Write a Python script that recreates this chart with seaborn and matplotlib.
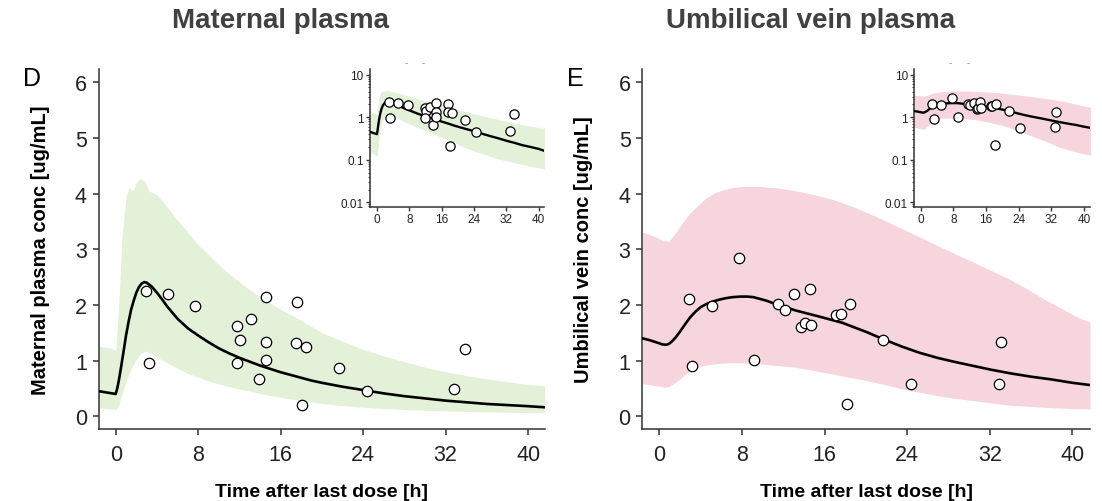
import matplotlib
matplotlib.use("Agg")
import matplotlib.pyplot as plt
import matplotlib.ticker as mticker
import numpy as np
import pandas as pd
import seaborn as sns

# ---------------- data ----------------
# Maternal plasma observations
mat_t = [2.95, 3.2, 5.1, 7.7, 11.8, 12.1, 11.75, 13.1, 13.9, 14.55, 14.6, 14.6,
         17.55, 17.5, 18.45, 18.1, 21.7, 24.4, 32.8, 33.9]
mat_c = [2.25, 0.95, 2.20, 1.98, 1.63, 1.37, 0.95, 1.74, 0.67, 2.15, 1.34, 1.01,
         2.05, 1.31, 1.24, 0.21, 0.86, 0.45, 0.48, 1.21]

# Maternal median prediction
mat_med_t = [-1.66, -1.0, 0.0, 0.15, 0.3, 0.5, 0.75, 1.0, 1.25, 1.5, 1.75, 2.0, 2.25, 2.5,
             2.75, 3.0, 3.5, 4.0, 4.5, 5, 6, 7, 8, 9, 10, 11, 12, 13, 14, 15, 16,
             17, 18, 19, 20, 22, 24, 26, 28, 30, 32, 34, 36, 38, 40, 41.6]
mat_med_c = [0.45, 0.43, 0.40, 0.50, 0.64, 0.86, 1.15, 1.45, 1.70, 1.92, 2.08, 2.22, 2.32,
             2.38, 2.41, 2.40, 2.33, 2.22, 2.10, 1.97, 1.75, 1.58, 1.45, 1.33, 1.22, 1.13,
             1.05, 0.98, 0.91, 0.85, 0.79, 0.74, 0.69, 0.64, 0.60, 0.53, 0.47, 0.41, 0.36,
             0.32, 0.28, 0.25, 0.22, 0.20, 0.18, 0.16]

# Maternal prediction interval
mat_pi_t = [-1.66, -1.0, -0.5, 0.0, 0.3, 0.6, 1.0, 1.3, 1.7, 2.0, 2.4, 2.8, 3.2, 4, 5, 6,
            7, 8, 9, 10, 11, 12, 13, 14, 15, 16, 17, 18, 20, 22, 24, 26, 28, 30, 32,
            34, 36, 38, 40, 41.6]
mat_pi_hi = [1.26, 1.24, 1.22, 1.18, 2.0, 3.2, 3.95, 4.1, 4.05, 4.2, 4.28, 4.22, 4.05,
             3.98, 3.76, 3.52, 3.30, 3.08, 2.90, 2.72, 2.56, 2.41, 2.27, 2.14, 2.03,
             1.92, 1.82, 1.72, 1.50, 1.35, 1.20, 1.08, 0.98, 0.88, 0.80, 0.73, 0.67,
             0.62, 0.57, 0.55]
mat_pi_lo = [0.15, 0.14, 0.13, 0.12, 0.20, 0.40, 0.62, 0.78, 0.92, 1.02, 1.12, 1.17, 1.15,
             1.06, 0.96, 0.86, 0.77, 0.70, 0.63, 0.58, 0.53, 0.49, 0.45, 0.41, 0.37,
             0.34, 0.31, 0.28, 0.23, 0.19, 0.16, 0.14, 0.12, 0.105, 0.095, 0.085, 0.078,
             0.07, 0.065, 0.06]

# Umbilical vein observations
umb_t = [2.87, 3.18, 5.06, 7.73, 9.2, 11.53, 12.15, 13.04, 13.69, 14.1, 14.54, 14.68,
         17.11, 17.59, 18.48, 18.14, 21.63, 24.33, 33.12, 32.85]
umb_c = [2.10, 0.90, 1.98, 2.84, 1.01, 2.02, 1.91, 2.19, 1.60, 1.68, 2.29, 1.64,
         1.82, 1.84, 2.01, 0.22, 1.37, 0.57, 1.34, 0.58]

# Umbilical median prediction
umb_med_t = [-1.64, -1.0, -0.5, 0.0, 0.3, 0.58, 0.8, 1.0, 1.3, 1.6, 2.0, 2.3, 2.6, 3.0,
             3.5, 4.0, 4.5, 5.0, 5.7, 6.4, 7.1, 7.9, 8.5, 9.1, 10.3, 11.5, 13.2, 15.3,
             17.7, 20.1, 21.6, 23.5, 25.2, 26.9, 28.5, 30, 32, 34, 36, 38, 40, 41.7]
umb_med_c = [1.40, 1.37, 1.34, 1.31, 1.29, 1.285, 1.29, 1.31, 1.36, 1.42, 1.52, 1.60,
             1.68, 1.78, 1.88, 1.96, 2.01, 2.05, 2.09, 2.12, 2.14, 2.15, 2.15, 2.14,
             2.08, 2.00, 1.90, 1.80, 1.68, 1.51, 1.39, 1.25, 1.14, 1.05, 0.98, 0.92,
             0.84, 0.77, 0.71, 0.66, 0.60, 0.56]

# Umbilical prediction interval
umb_pi_t = [-1.64, -1, -0.5, 0, 0.5, 0.9, 1.5, 2.3, 3.0, 3.7, 4.5, 5.4, 6.2, 7.1, 8, 9.8,
            11.5, 13.2, 15, 16.7, 18.4, 20.1, 21.8, 23.5, 25.2, 26.9, 28.6, 30.4, 32.1,
            33.8, 35.5, 37.2, 39, 40.5, 41.7]
umb_pi_hi = [3.31, 3.27, 3.23, 3.19, 3.15, 3.14, 3.28, 3.49, 3.66, 3.78, 3.92, 4.02, 4.07,
             4.11, 4.13, 4.13, 4.10, 4.05, 3.98, 3.90, 3.79, 3.66, 3.52, 3.37, 3.22,
             3.07, 2.92, 2.77, 2.62, 2.47, 2.30, 2.11, 1.93, 1.78, 1.69]
umb_pi_lo = [0.58, 0.57, 0.55, 0.54, 0.52, 0.53, 0.60, 0.72, 0.82, 0.88, 0.92, 0.94, 0.955,
             0.96, 0.96, 0.94, 0.91, 0.88, 0.82, 0.76, 0.70, 0.64, 0.57, 0.49, 0.43,
             0.37, 0.32, 0.28, 0.24, 0.20, 0.18, 0.16, 0.145, 0.135, 0.13]

x_ticks = [0, 8, 16, 24, 32, 40]
lin_y_ticks = [0, 1, 2, 3, 4, 5, 6]
log_y_ticks = [0.01, 0.1, 1, 10]
log_y_labels = ["0.01", "0.1", "1", "10"]

titles = ["Maternal plasma", "Umbilical vein plasma"]
panel_letters = ["D", "E"]
ylabels = ["Maternal plasma conc [ug/mL]", "Umbilical vein conc [ug/mL]"]
xlabel = "Time after last dose [h]"

GREEN = "#e2f1d8"
PINK = "#f6d5dc"

# ---------------- style ----------------
sns.set_theme(style="ticks")
plt.rcParams["font.family"] = ["Liberation Sans", "DejaVu Sans"]

W, H = 1102, 502
fig = plt.figure(figsize=(W / 100, H / 100), dpi=100)


def px_axes(x0, y0, x1, y1):
    return fig.add_axes([x0 / W, 1 - y1 / H, (x1 - x0) / W, (y1 - y0) / H])


ax_m = px_axes(98.6, 70, 544.6, 430)
ax_u = px_axes(642.4, 70, 1090, 430)
in_m = px_axes(370, 70, 544, 207.7)
in_u = px_axes(914.3, 70, 1090, 207.7)

SPINE_C = "#333333"


def draw(ax, t, c, mt, mc, pt, plo, phi, color, inset=False):
    ax.fill_between(pt, plo, phi, color=color, lw=0, zorder=1)
    med = pd.DataFrame({"t": mt, "c": mc})
    obs = pd.DataFrame({"t": t, "c": c})
    sns.lineplot(data=med, x="t", y="c", ax=ax, color="black",
                 lw=1.7 if inset else 1.9, sort=False, estimator=None, zorder=3)
    sns.scatterplot(data=obs, x="t", y="c", ax=ax, marker="o", s=44 if inset else 56,
                    facecolor="white", edgecolor="black", linewidth=0.9, zorder=4)
    ax.set_xlabel("")
    ax.set_ylabel("")
    sns.despine(ax=ax)
    for side in ("left", "bottom"):
        ax.spines[side].set_color(SPINE_C)
        ax.spines[side].set_linewidth(1.1)
    ax.set_xticks(x_ticks)


for ax, inset_ax, data, xl, i in [
    (ax_m, in_m, (mat_t, mat_c, mat_med_t, mat_med_c, mat_pi_t, mat_pi_lo, mat_pi_hi, GREEN),
     (-1.66, 41.6), 0),
    (ax_u, in_u, (umb_t, umb_c, umb_med_t, umb_med_c, umb_pi_t, umb_pi_lo, umb_pi_hi, PINK),
     (-1.64, 41.7), 1),
]:
    draw(ax, *data)
    ax.set_xlim(*xl)
    ax.set_ylim(-0.23, 6.24)
    ax.set_yticks(lin_y_ticks)
    ax.tick_params(axis="both", which="major", direction="out", length=4, width=1.1,
                   color=SPINE_C, labelcolor="#222222", labelsize=15.5)
    ax.tick_params(axis="x", pad=6.5)
    ax.tick_params(axis="y", pad=4.5)
    ax.set_xlabel(xlabel, fontsize=14, fontweight="bold", color="black", labelpad=13)
    ax.set_ylabel(ylabels[i], fontsize=14.5, fontweight="bold", color="black", labelpad=18)
    ax.patch.set_alpha(0)

    draw(inset_ax, *data, inset=True)
    inset_ax.set_yscale("log")
    inset_ax.set_xlim(-1.73 if i == 0 else -1.57, 41.3 if i == 0 else 41.5)
    inset_ax.set_ylim(0.0079, 13.6)
    inset_ax.set_yticks(log_y_ticks)
    inset_ax.set_yticklabels(log_y_labels)
    inset_ax.yaxis.set_minor_locator(mticker.LogLocator(base=10, subs=np.arange(2, 10)))
    inset_ax.yaxis.set_minor_formatter(mticker.NullFormatter())
    inset_ax.tick_params(axis="both", which="major", direction="out", length=3, width=1.0,
                         color=SPINE_C, labelcolor="#222222", labelsize=8.5, pad=1.5)
    inset_ax.tick_params(axis="y", which="minor", direction="out", length=1.6, width=0.7,
                         color=SPINE_C)
    inset_ax.set_facecolor("white")

# titles and panel letters
fig.text(281 / W, 1 - 21 / H, titles[0], ha="center", va="center", fontsize=20,
         fontweight="bold", color="#404040")
fig.text(811 / W, 1 - 21 / H, titles[1], ha="center", va="center", fontsize=20,
         fontweight="bold", color="#404040")
fig.text(23 / W, 1 - 86 / H, panel_letters[0], ha="left", va="baseline", fontsize=18,
         color="black")
fig.text(567 / W, 1 - 86 / H, panel_letters[1], ha="left", va="baseline", fontsize=18,
         color="black")

# faint cropped marks above the insets
for xx in (406, 423, 950, 968):
    fig.text(xx / W, 1 - 63 / H, "-", ha="center", va="center", fontsize=7, color="#888888")

fig.savefig("out.png", dpi=100)
